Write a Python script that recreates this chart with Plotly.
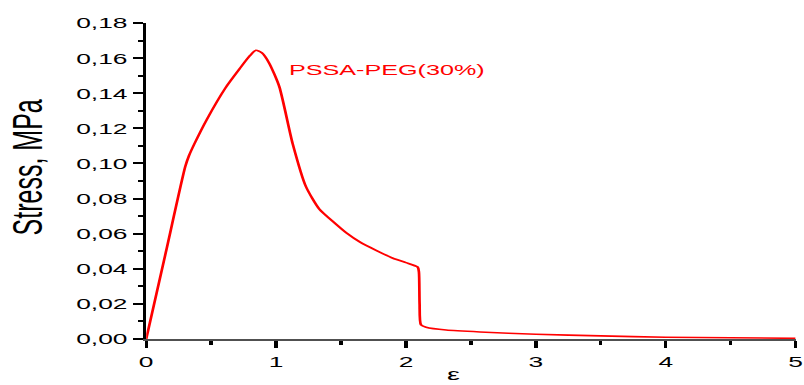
import plotly.graph_objects as go

# Stress-strain curve for PSSA-PEG(30%)
strain = [0, 0.15, 0.30, 0.33, 0.37, 0.47, 0.61, 0.72, 0.80, 0.845, 0.89, 0.948,
          1.025, 1.127, 1.23, 1.333, 1.46, 1.54, 1.65, 1.77, 1.90, 2.00, 2.09,
          2.10, 2.105, 2.116, 2.155, 2.31, 2.57, 3.0, 3.5, 4.0, 4.5, 5.0]
stress = [0, 0.049, 0.098, 0.1045, 0.111, 0.1255, 0.143, 0.154, 0.1615, 0.1645,
          0.163, 0.157, 0.1437, 0.1115, 0.0868, 0.0740, 0.0655, 0.0605, 0.055,
          0.0505, 0.046, 0.0435, 0.041, 0.038, 0.020, 0.008, 0.0067, 0.0051,
          0.0040, 0.0027, 0.0018, 0.0010, 0.0007, 0.0004]

series_name = "PSSA-PEG(30%)"
x_title = "ε"
y_title = "Stress, MPa"

# the page is drawn narrow and stretched horizontally afterwards
STRETCH = 1.7
W, H = 804, 385
LEFT, RIGHT, TOP, BOTTOM = 147 / STRETCH, 8 / STRETCH, 23, 46

fig = go.Figure()
fig.add_trace(go.Scatter(
    x=strain, y=stress, mode="lines", name=series_name,
    line=dict(color="#ff0000", width=1.6, shape="spline", smoothing=0.6),
    showlegend=False,
))

fig.add_annotation(
    x=1.068, y=0.153, xref="x", yref="y", text=series_name,
    showarrow=False, xanchor="left", yanchor="middle",
    font=dict(family="Liberation Sans, Arial", size=14.8, color="#ff0000"),
)
fig.add_annotation(
    x=2.37, y=0, xref="x", yref="paper", text=x_title,
    showarrow=False, xanchor="center", yanchor="top", yshift=-24,
    font=dict(family="Liberation Sans, Arial", size=17, color="#000000"),
)
# vertical axis title
fig.add_annotation(
    x=0, y=0.543, xref="paper", yref="paper", text=y_title, textangle=-90,
    showarrow=False, xanchor="center", yanchor="middle", xshift=28 / STRETCH - LEFT,
    font=dict(family="Liberation Sans, Arial", size=25, color="#000000"),
)

tick_font = dict(family="Liberation Sans, Arial", size=15.5, color="#000000")

fig.update_layout(
    template="none",
    width=round(W / STRETCH), height=H,
    margin=dict(l=LEFT, r=RIGHT, t=TOP, b=BOTTOM, pad=0),
    paper_bgcolor="white", plot_bgcolor="white",
    separators=",.",
    xaxis=dict(
        range=[0, 5], dtick=1, tick0=0, automargin=False,
        showgrid=False, zeroline=False,
        showline=True, linecolor="#505050", linewidth=2,
        ticks="outside", ticklen=7, tickwidth=1.6, tickcolor="#000000",
        minor=dict(ticks="outside", ticklen=4, tickwidth=1.6, dtick=0.5, tickcolor="#000000"),
        tickfont=tick_font,
    ),
    yaxis=dict(
        range=[0, 0.18], dtick=0.02, tick0=0, tickformat=".2f", automargin=False,
        showgrid=False, zeroline=False,
        showline=True, linecolor="#000000", linewidth=1.8,
        ticks="outside", ticklen=6, tickwidth=2, tickcolor="#000000",
        minor=dict(ticks="outside", ticklen=3, tickwidth=2, dtick=0.01, tickcolor="#000000"),
        tickfont=tick_font,
    ),
)

post = """
var gd = document.getElementById('{plot_id}');
gd.style.transformOrigin = '0 0';
gd.style.transform = 'scaleX(%s)';
""" % STRETCH

fig.write_html("out.html", post_script=post)
